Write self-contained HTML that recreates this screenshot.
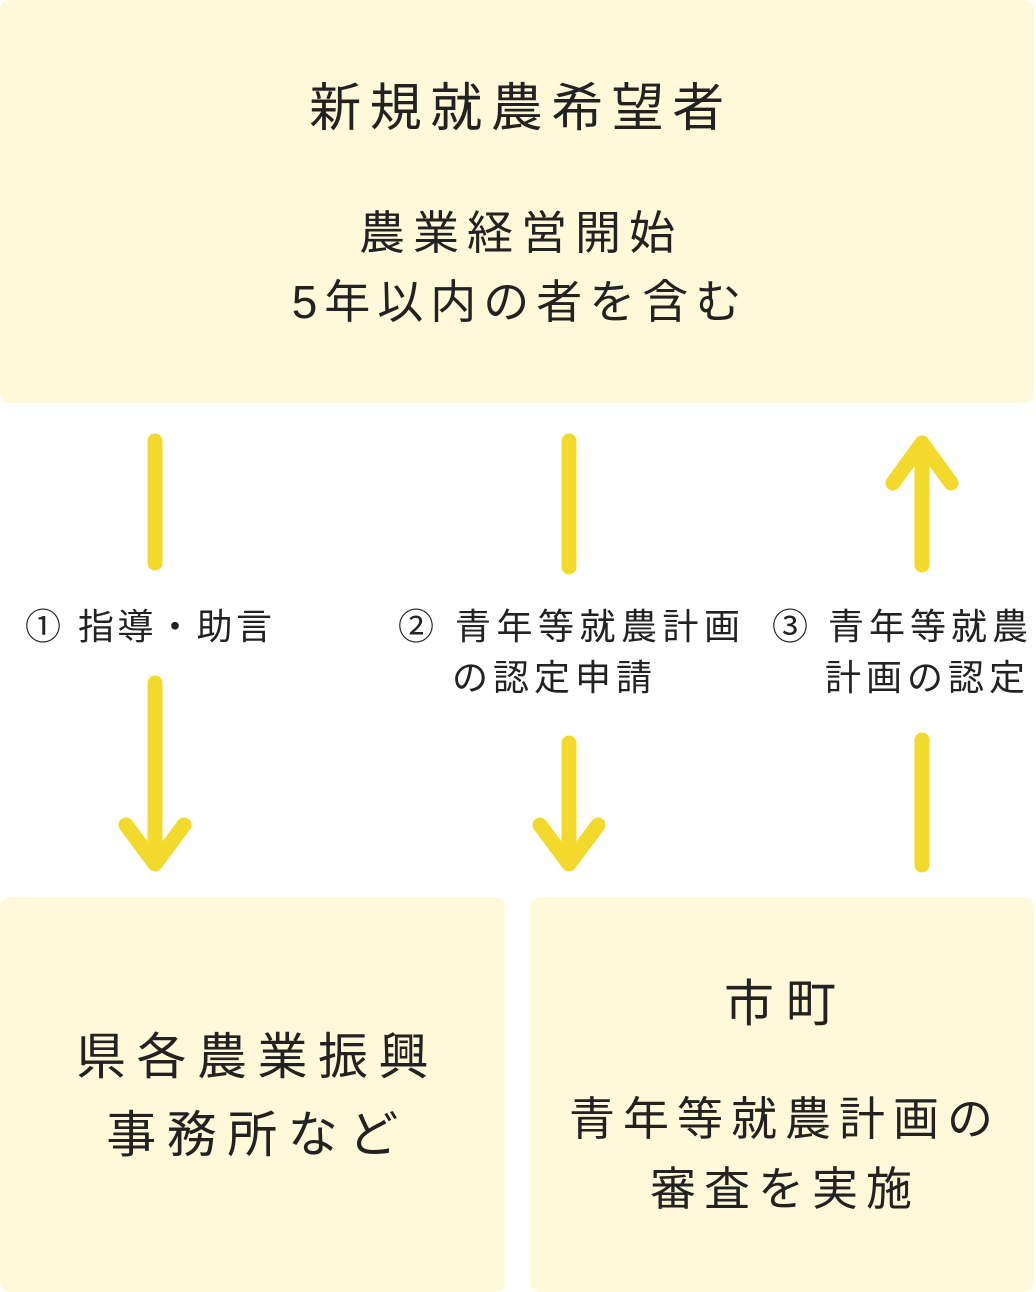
<!DOCTYPE html>
<html><head><meta charset="utf-8"><style>
body{margin:0;width:1036px;height:1292px;background:#fff;position:relative;overflow:hidden;font-family:"Liberation Sans","Noto Sans CJK JP",sans-serif;color:#222;}
.box{position:absolute;background:#fff9d9;border-radius:10px;}
.t{position:absolute;white-space:nowrap;line-height:1;}
.c{text-align:center;}
</style></head><body>
<div class="box" style="left:0;top:0;width:1034px;height:403px"></div>
<div class="box" style="left:0;top:897px;width:505px;height:395px"></div>
<div class="box" style="left:530px;top:897px;width:504px;height:395px"></div>

<div class="t c" style="left:4px;width:1034px;top:83px;font-size:52px;letter-spacing:8.5px">新規就農希望者</div>
<div class="t c" style="left:4px;width:1034px;top:210px;font-size:46px;letter-spacing:8px">農業経営開始</div>
<div class="t c" style="left:3px;width:1034px;top:279px;font-size:46px;letter-spacing:7px">5年以内の者を含む</div>

<div class="t" style="left:25px;top:609px;font-size:36px;letter-spacing:3.5px">① 指導・助言</div>
<div class="t" style="left:398px;top:609px;font-size:36px;letter-spacing:5.5px">② 青年等就農計画</div>
<div class="t" style="left:452px;top:660px;font-size:36px;letter-spacing:5px">の認定申請</div>
<div class="t" style="left:772px;top:609px;font-size:36px;letter-spacing:5px">③ 青年等就農</div>
<div class="t" style="left:825px;top:660px;font-size:36px;letter-spacing:5px">計画の認定</div>

<div class="t c" style="left:5px;width:505px;top:1032px;font-size:50px;letter-spacing:10.5px">県各農業振興</div>
<div class="t c" style="left:5px;width:505px;top:1110px;font-size:50px;letter-spacing:10.5px">事務所など</div>
<div class="t c" style="left:534px;width:504px;top:979px;font-size:50px;letter-spacing:12px">市町</div>
<div class="t c" style="left:533px;width:504px;top:1096px;font-size:46px;letter-spacing:8px">青年等就農計画の</div>
<div class="t c" style="left:533px;width:504px;top:1166px;font-size:46px;letter-spacing:8px">審査を実施</div>

<svg width="1036" height="1292" style="position:absolute;left:0;top:0" fill="none" stroke="#f2d92b" stroke-width="15" stroke-linecap="round" stroke-linejoin="round">
<line x1="155" y1="441" x2="155" y2="563"/>
<line x1="155" y1="683" x2="155" y2="862"/>
<polyline points="126,825 155,864 184,825"/>
<line x1="569" y1="441" x2="569" y2="567"/>
<line x1="569" y1="743" x2="569" y2="862"/>
<polyline points="540,825 569,864 598,825"/>
<line x1="922" y1="443" x2="922" y2="565"/>
<polyline points="893,483 922,443 951,483"/>
<line x1="922" y1="740" x2="922" y2="865"/>
</svg>
</body></html>
